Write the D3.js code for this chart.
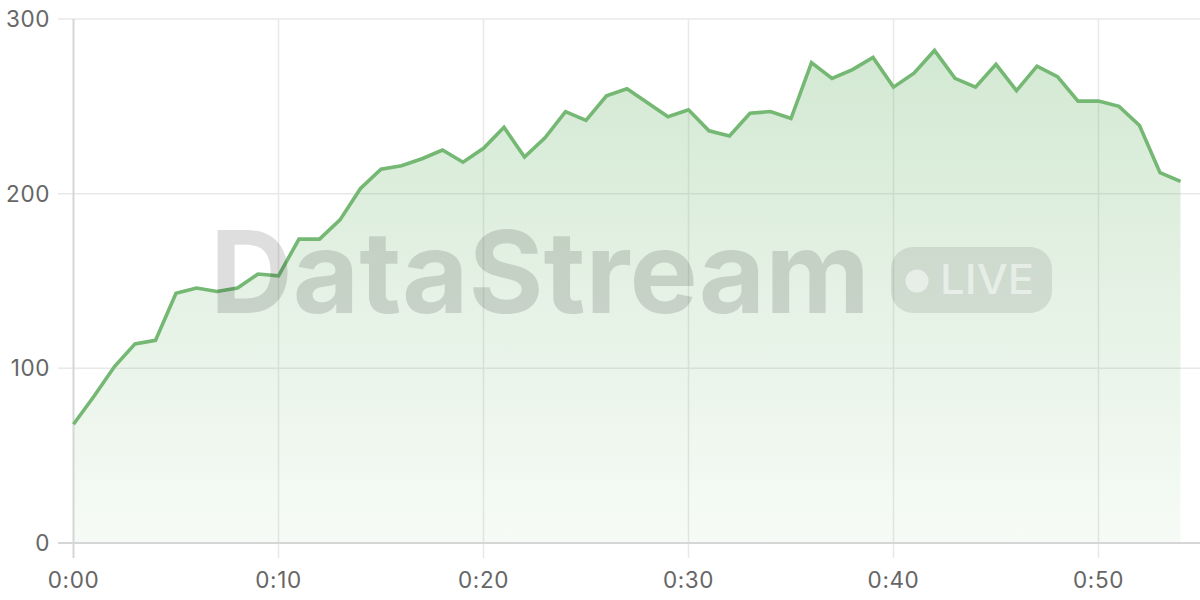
<!DOCTYPE html>
<html>
<head>
<meta charset="utf-8">
<script src="https://cdn.jsdelivr.net/npm/d3@7"></script>
<style>
  html, body { margin: 0; padding: 0; background: #fff; }
  svg { display: block; font-family: Inter, "Noto Sans", sans-serif; }
</style>
</head>
<body>
<svg id="chart" width="1200" height="600"></svg>
<script>
// ---- data ----
const minutes = d3.range(0, 55); // 0:00 .. 0:54, one point per minute
const values = [
  68, 84, 101, 114, 116, 143, 146, 144, 146, 154,
  153, 174, 174, 185, 203, 214, 216, 220, 225, 218,
  226, 238, 221, 232, 247, 242, 256, 260, 252, 244,
  248, 236, 233, 246, 247, 243, 275, 266, 271, 278,
  261, 269, 282, 266, 261, 274, 259, 273, 267, 253,
  253, 250, 239, 212, 207
];
const xTicks = [0, 10, 20, 30, 40, 50];
const yTicks = [0, 100, 200, 300];
const watermark = "DataStream";
const badge = "LIVE";

// ---- layout ----
const svg = d3.select("#chart");
const x = d3.scaleLinear().domain([0, 55]).range([73.5, 1201]);
const y = d3.scaleLinear().domain([0, 300]).range([543, 19]);
const fmt = m => Math.floor(m / 60) + ":" + String(m % 60).padStart(2, "0");

const defs = svg.append("defs");
const grad = defs.append("linearGradient")
  .attr("id", "areaGrad")
  .attr("gradientUnits", "userSpaceOnUse")
  .attr("x1", 0).attr("x2", 0).attr("y1", y(285)).attr("y2", y(0));
grad.append("stop").attr("offset", "0%").attr("stop-color", "#74b874").attr("stop-opacity", 0.32);
grad.append("stop").attr("offset", "100%").attr("stop-color", "#74b874").attr("stop-opacity", 0.06);

// grid
const grid = svg.append("g");
grid.selectAll("line.h").data(yTicks.filter(d => d > 0)).join("line")
  .attr("x1", 58).attr("x2", 1200)
  .attr("y1", d => y(d)).attr("y2", d => y(d))
  .attr("stroke", "#e8e8e8").attr("stroke-width", 1.5);
grid.selectAll("line.v").data(xTicks.filter(d => d > 0)).join("line")
  .attr("x1", d => x(d)).attr("x2", d => x(d))
  .attr("y1", y(300)).attr("y2", 558)
  .attr("stroke", "#e8e8e8").attr("stroke-width", 1.5);

// area + line
const pts = minutes.map((m, i) => [m, values[i]]);
svg.append("path").datum(pts)
  .attr("fill", "url(#areaGrad)")
  .attr("d", d3.area().x(d => x(d[0])).y0(y(0)).y1(d => y(d[1])));

// axes lines
svg.append("line").attr("x1", 58).attr("x2", 1200).attr("y1", y(0)).attr("y2", y(0))
  .attr("stroke", "#d6d6d6").attr("stroke-width", 2);
svg.append("line").attr("x1", x(0)).attr("x2", x(0)).attr("y1", y(300)).attr("y2", 558)
  .attr("stroke", "#d6d6d6").attr("stroke-width", 2);

svg.append("path").datum(pts)
  .attr("fill", "none").attr("stroke", "#74b874").attr("stroke-width", 3.6)
  .attr("stroke-linejoin", "miter").attr("stroke-linecap", "butt")
  .attr("d", d3.line().x(d => x(d[0])).y(d => y(d[1])));

// tick labels
svg.append("g").selectAll("text").data(yTicks).join("text")
  .attr("x", 50).attr("y", d => y(d)).attr("dy", "0.36em")
  .attr("text-anchor", "end").attr("font-size", 22.5).attr("fill", "#666")
  .attr("letter-spacing", 0.6)
  .text(d => d);
svg.append("g").selectAll("text").data(xTicks).join("text")
  .attr("x", d => x(d)).attr("y", 588)
  .attr("text-anchor", "middle").attr("font-size", 22.5).attr("fill", "#666")
  .attr("letter-spacing", 0.6)
  .text(d => fmt(d));

// watermark
const wm = svg.append("g").attr("pointer-events", "none");
wm.append("text")
  .attr("x", 210).attr("y", 313)
  .attr("font-size", 114).attr("font-weight", 700)
  .attr("textLength", 660).attr("lengthAdjust", "spacingAndGlyphs")
  .attr("fill", "#000").attr("fill-opacity", 0.13)
  .text(watermark);
wm.append("rect")
  .attr("x", 891).attr("y", 247).attr("width", 161).attr("height", 66).attr("rx", 22)
  .attr("fill", "#000").attr("fill-opacity", 0.09);
wm.append("circle").attr("cx", 917).attr("cy", 281).attr("r", 11.5)
  .attr("fill", "#fff").attr("fill-opacity", 0.5);
wm.append("text")
  .attr("x", 940).attr("y", 294)
  .attr("font-size", 41).attr("font-weight", 500)
  .attr("textLength", 94).attr("lengthAdjust", "spacingAndGlyphs")
  .attr("fill", "#fff").attr("fill-opacity", 0.5)
  .text(badge);
</script>
</body>
</html>
